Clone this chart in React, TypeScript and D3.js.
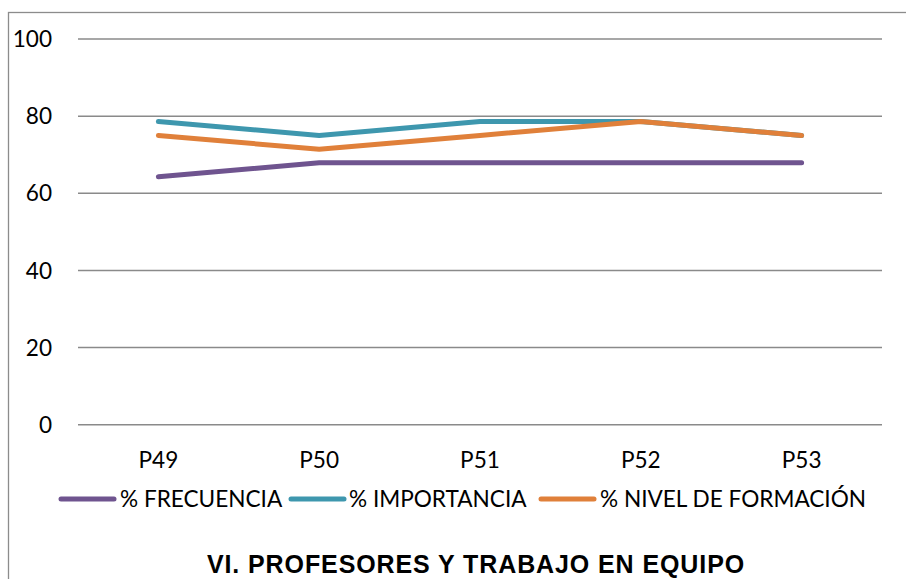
import React from "react";
import * as d3 from "d3";

const categories = ["P49", "P50", "P51", "P52", "P53"];
const frecuencia = [64.3, 67.9, 67.9, 67.9, 67.9];
const importancia = [78.6, 75.0, 78.6, 78.6, 75.0];
const nivelFormacion = [75.0, 71.4, 75.0, 78.6, 75.0];
const yTicks = [0, 20, 40, 60, 80, 100];
const seriesNames = ["% FRECUENCIA", "% IMPORTANCIA", "% NIVEL DE FORMACIÓN"];
const seriesColors = ["#6F548F", "#3E97AE", "#E0803A"];
const chartTitle = "VI. PROFESORES Y TRABAJO EN EQUIPO";

const W = 906;
const H = 579;
const FONT = "Lato, 'Open Sans', sans-serif";

export default function App() {
  const x = d3.scaleBand<string>().domain(categories).range([78, 882]);
  const y = d3.scaleLinear().domain([0, 100]).range([424.7, 39]);
  const series = [frecuencia, importancia, nivelFormacion];
  const line = d3
    .line<number>()
    .x((_, i) => (x(categories[i]) as number) + x.bandwidth() / 2)
    .y((d) => y(d));

  const legendItems = [
    { lx: 61, tx: 120 },
    { lx: 291, tx: 349 },
    { lx: 541, tx: 600 },
  ];

  return (
    <svg
      width={W}
      height={H}
      style={{ position: "absolute", left: 0, top: 0, background: "#fff" }}
    >
      <rect x={8.5} y={12.5} width={W + 10} height={H + 10} fill="#fff" stroke="#8C8C8C" strokeWidth={1.3} />
      {yTicks.map((t) => (
        <g key={t}>
          <line x1={78} x2={882} y1={y(t)} y2={y(t)} stroke="#8A8A8A" strokeWidth={1.5} />
          <text x={52} y={y(t)} dy="0.36em" textAnchor="end" fontFamily={FONT} fontSize={22.6} fill="#000">
            {t}
          </text>
        </g>
      ))}
      {categories.map((c) => (
        <text
          key={c}
          x={(x(c) as number) + x.bandwidth() / 2}
          y={468}
          textAnchor="middle"
          fontFamily={FONT}
          fontSize={22.6}
          fill="#000"
        >
          {c}
        </text>
      ))}
      {series.map((s, i) => (
        <path
          key={i}
          d={line(s) as string}
          fill="none"
          stroke={seriesColors[i]}
          strokeWidth={5}
          strokeLinecap="round"
          strokeLinejoin="round"
        />
      ))}
      {seriesNames.map((n, i) => (
        <g key={n}>
          <line
            x1={legendItems[i].lx}
            x2={legendItems[i].lx + 53}
            y1={499}
            y2={499}
            stroke={seriesColors[i]}
            strokeWidth={5}
            strokeLinecap="round"
          />
          <text x={legendItems[i].tx} y={499} dy="0.36em" fontFamily={FONT} fontSize={22.6} fill="#000">
            {n}
          </text>
        </g>
      ))}
      <text
        x={476}
        y={573}
        textAnchor="middle"
        fontFamily="'Liberation Sans', Arial, sans-serif"
        fontWeight="bold"
        fontSize={25}
        letterSpacing={0.9}
        fill="#000"
      >
        {chartTitle}
      </text>
    </svg>
  );
}
